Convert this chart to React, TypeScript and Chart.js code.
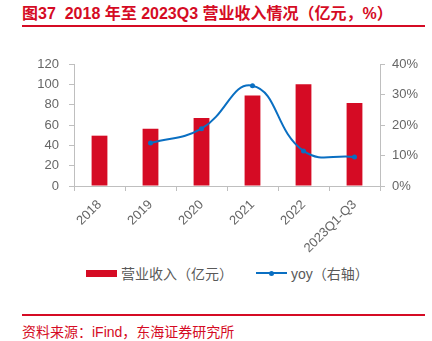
import React, { useEffect, useRef } from "react";
import { Chart, registerables } from "chart.js";

Chart.register(...registerables);

const TITLE = "图37  2018 年至 2023Q3 营业收入情况（亿元，%）";
const SOURCE = "资料来源：iFind，东海证券研究所";
const categories = ["2018", "2019", "2020", "2021", "2022", "2023Q1-Q3"];
const revenue = [49.5, 56.2, 67, 89, 100, 81.6];
const yoy = [null, 14.1, 18.8, 32.9, 11.5, 9.5];
const revenueLabel = "营业收入（亿元）";
const yoyLabel = "yoy（右轴）";

const RED = "#d50b24";
const BLUE = "#0a6fc2";
const GRAY = "#666666";
const AXIS = "#bfbfbf";
const FONT = "'Liberation Sans', Arial, 'Noto Sans CJK SC', sans-serif";

export default function App() {
  const ref = useRef<HTMLCanvasElement>(null);
  useEffect(() => {
    document.body.style.margin = "0";
    const ctx = ref.current!;
    const chart = new Chart(ctx, {
      type: "bar",
      data: {
        labels: categories,
        datasets: [
          {
            type: "line",
            label: yoyLabel,
            data: yoy,
            yAxisID: "y1",
            borderColor: BLUE,
            backgroundColor: BLUE,
            borderWidth: 2,
            pointRadius: 2.5,
            pointBackgroundColor: BLUE,
            pointBorderWidth: 0,
            tension: 0.45,
            order: 0,
          } as any,
          {
            type: "bar",
            label: revenueLabel,
            data: revenue,
            yAxisID: "y",
            backgroundColor: RED,
            categoryPercentage: 1,
            barPercentage: 0.31,
            order: 1,
          },
        ],
      },
      options: {
        animation: false,
        responsive: false,
        maintainAspectRatio: false,
        layout: { padding: { left: 0, right: 0, top: 24, bottom: 0 } },
        plugins: { legend: { display: false }, tooltip: { enabled: false } },
        scales: {
          x: {
            offset: true,
            grid: {
              offset: true,
              drawOnChartArea: false,
              drawTicks: true,
              tickLength: 5,
              color: AXIS,
            },
            border: { color: AXIS, width: 1 },
            ticks: {
              color: GRAY,
              font: { family: FONT, size: 13 },
              maxRotation: 45,
              minRotation: 45,
              padding: 6,
            },
            afterFit: (s: any) => {
              s.height = 74;
            },
          },
          y: {
            position: "left",
            min: 0,
            max: 120,
            ticks: {
              stepSize: 20,
              color: GRAY,
              font: { family: FONT, size: 13 },
              padding: 10,
            },
            grid: {
              drawOnChartArea: false,
              drawTicks: true,
              tickLength: 5,
              color: AXIS,
            },
            border: { color: AXIS, width: 1 },
            afterFit: (s: any) => {
              s.width = 74;
            },
          },
          y1: {
            position: "right",
            min: 0,
            max: 40,
            ticks: {
              stepSize: 10,
              color: GRAY,
              font: { family: FONT, size: 13 },
              padding: 7,
              callback: (v: any) => v + "%",
            },
            grid: {
              drawOnChartArea: false,
              drawTicks: true,
              tickLength: 5,
              color: AXIS,
            },
            border: { color: AXIS, width: 1 },
            afterFit: (s: any) => {
              s.width = 52;
            },
          },
        },
      },
    });
    return () => chart.destroy();
  }, []);

  return (
    <div
      style={{
        position: "relative",
        width: 432,
        height: 341,
        background: "#fff",
        fontFamily: FONT,
        overflow: "hidden",
      }}
    >
      <div
        style={{
          position: "absolute",
          left: 22,
          top: 4,
          fontSize: 16,
          fontWeight: "bold",
          color: RED,
          whiteSpace: "pre",
          lineHeight: "20px",
        }}
      >
        {TITLE}
      </div>
      <div
        style={{
          position: "absolute",
          left: 22,
          top: 25,
          width: 403,
          height: 1.5,
          background: RED,
        }}
      />
      <canvas
        ref={ref}
        width={432}
        height={220}
        style={{ position: "absolute", left: 0, top: 40, width: 432, height: 220 }}
      />
      <div
        style={{
          position: "absolute",
          left: 86,
          top: 263,
          display: "flex",
          alignItems: "center",
          height: 20,
          fontSize: 14,
          color: "#595959",
          whiteSpace: "pre",
        }}
      >
        <span style={{ display: "inline-block", width: 31, height: 7, background: RED, marginRight: 4 }} />
        <span>{revenueLabel}</span>
        <span style={{ display: "inline-block", width: 23 }} />
        <span style={{ position: "relative", display: "inline-block", width: 31, height: 2, background: BLUE, marginRight: 4 }}>
          <span
            style={{
              position: "absolute",
              left: 13,
              top: -1.5,
              width: 5,
              height: 5,
              borderRadius: "50%",
              background: BLUE,
            }}
          />
        </span>
        <span>{yoyLabel}</span>
      </div>
      <div
        style={{
          position: "absolute",
          left: 22,
          top: 314,
          width: 403,
          height: 1.5,
          background: RED,
        }}
      />
      <div
        style={{
          position: "absolute",
          left: 22,
          top: 322,
          fontSize: 14,
          color: RED,
          whiteSpace: "pre",
          lineHeight: "20px",
        }}
      >
        {SOURCE}
      </div>
    </div>
  );
}
